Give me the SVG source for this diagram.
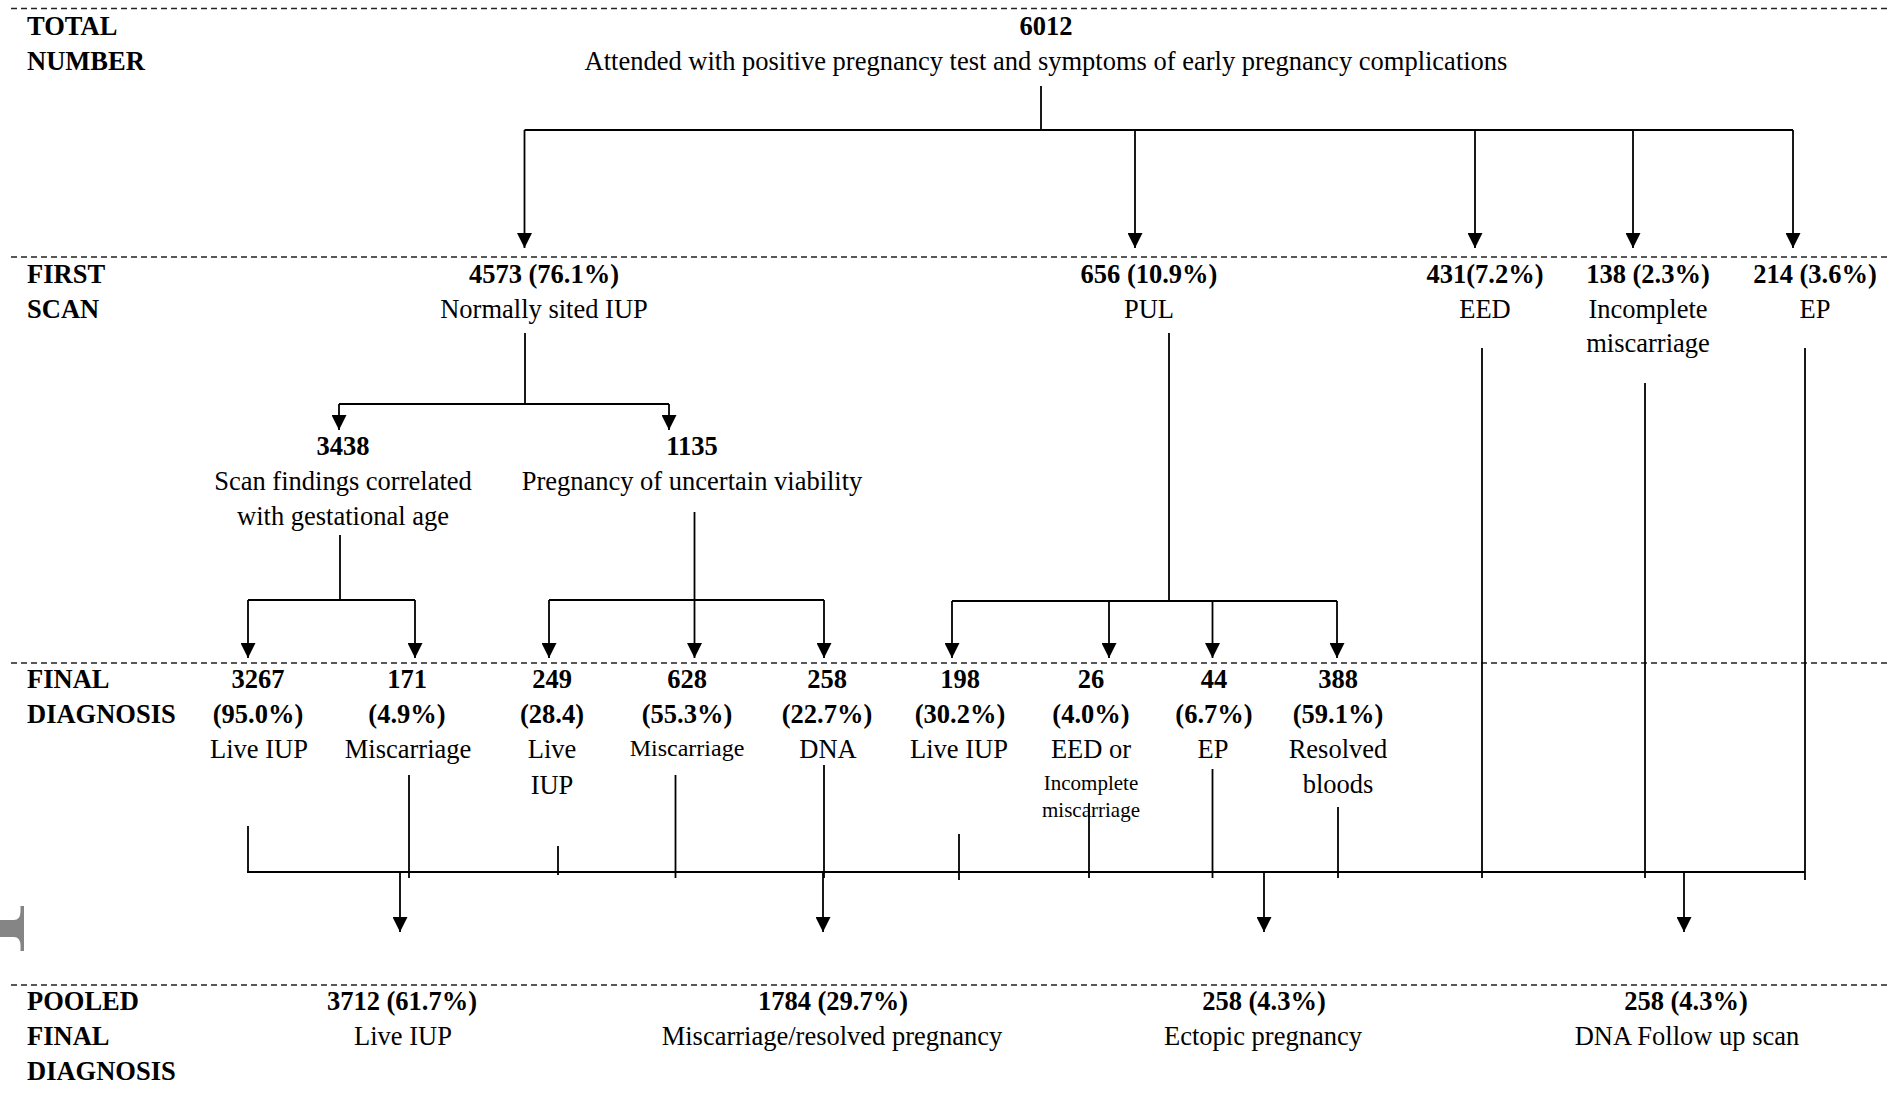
<svg xmlns="http://www.w3.org/2000/svg" width="1887" height="1112" viewBox="0 0 1887 1112">
<style>
text{font-family:"Liberation Serif","Times New Roman",serif;fill:#000;}
.b{font-size:26.5px;font-weight:bold;text-anchor:middle;}
.r{font-size:26.5px;text-anchor:middle;}
.s{font-size:24px;text-anchor:middle;}
.xs{font-size:21px;text-anchor:middle;}
.lab{font-size:26.5px;font-weight:bold;text-anchor:start;}
.dash{stroke:#222;stroke-width:1.3;stroke-dasharray:6 4;fill:none;}
.c{stroke:#000;stroke-width:1.8;fill:none;}
.a{stroke:#000;stroke-width:1.8;fill:none;marker-end:url(#ah);}
</style>
<defs>
<marker id="ah" markerUnits="userSpaceOnUse" viewBox="0 0 15 15" markerWidth="15" markerHeight="15" refX="15" refY="7.5" orient="auto">
<path d="M0,0 L15,7.5 L0,15 z" fill="#000"/>
</marker>
</defs>
<rect width="1887" height="1112" fill="#fff"/>
<g id="separators">
<line class="dash" x1="11" y1="8.5" x2="1887" y2="8.5"/>
<line class="dash" x1="11" y1="257" x2="1887" y2="257"/>
<line class="dash" x1="11" y1="663" x2="1887" y2="663"/>
<line class="dash" x1="11" y1="985" x2="1887" y2="985"/>
</g>
<g id="row-labels">
<text class="lab" x="27" y="35">TOTAL</text>
<text class="lab" x="27" y="70">NUMBER</text>
<text class="lab" x="27" y="283">FIRST</text>
<text class="lab" x="27" y="318">SCAN</text>
<text class="lab" x="27" y="688">FINAL</text>
<text class="lab" x="27" y="723">DIAGNOSIS</text>
<text class="lab" x="27" y="1010">POOLED</text>
<text class="lab" x="27" y="1045">FINAL</text>
<text class="lab" x="27" y="1080">DIAGNOSIS</text>
</g>
<g id="artifact">
<path d="M0,920 L14,920 Q20,920 20.5,912 L20.5,906 L24,906 L24,951 L20.5,951 L20.5,945 Q20,937 14,937 L0,937 z" fill="#858585"/>
</g>
<g id="n-total">
<text class="b" x="1046" y="35">6012</text>
<text class="r" x="1046" y="70">Attended with positive pregnancy test and symptoms of early pregnancy complications</text>
</g>
<g id="n-iup">
<text class="b" x="544" y="283">4573 (76.1%)</text>
<text class="r" x="544" y="318">Normally sited IUP</text>
</g>
<g id="n-pul">
<text class="b" x="1149" y="283">656 (10.9%)</text>
<text class="r" x="1149" y="318">PUL</text>
</g>
<g id="n-eed">
<text class="b" x="1485" y="283">431(7.2%)</text>
<text class="r" x="1485" y="318">EED</text>
</g>
<g id="n-incomplete">
<text class="b" x="1648" y="283">138 (2.3%)</text>
<text class="r" x="1648" y="318">Incomplete</text>
<text class="r" x="1648" y="352">miscarriage</text>
</g>
<g id="n-ep">
<text class="b" x="1815" y="283">214 (3.6%)</text>
<text class="r" x="1815" y="318">EP</text>
</g>
<g id="n-correlated">
<text class="b" x="343" y="455">3438</text>
<text class="r" x="343" y="490">Scan findings correlated</text>
<text class="r" x="343" y="525">with gestational age</text>
</g>
<g id="n-puv">
<text class="b" x="692" y="455">1135</text>
<text class="r" x="692" y="490">Pregnancy of uncertain viability</text>
</g>
<g id="f-3267">
<text class="b" x="258" y="688">3267</text>
<text class="b" x="258" y="723">(95.0%)</text>
<text class="r" x="259" y="758">Live IUP</text>
</g>
<g id="f-171">
<text class="b" x="407" y="688">171</text>
<text class="b" x="407" y="723">(4.9%)</text>
<text class="r" x="408" y="758">Miscarriage</text>
</g>
<g id="f-249">
<text class="b" x="552" y="688">249</text>
<text class="b" x="552" y="723">(28.4)</text>
<text class="r" x="552" y="758">Live</text>
<text class="r" x="552" y="794">IUP</text>
</g>
<g id="f-628">
<text class="b" x="687" y="688">628</text>
<text class="b" x="687" y="723">(55.3%)</text>
<text class="s" x="687" y="756">Miscarriage</text>
</g>
<g id="f-258">
<text class="b" x="827" y="688">258</text>
<text class="b" x="827" y="723">(22.7%)</text>
<text class="r" x="828" y="758">DNA</text>
</g>
<g id="f-198">
<text class="b" x="960" y="688">198</text>
<text class="b" x="960" y="723">(30.2%)</text>
<text class="r" x="959" y="758">Live IUP</text>
</g>
<g id="f-26">
<text class="b" x="1091" y="688">26</text>
<text class="b" x="1091" y="723">(4.0%)</text>
<text class="r" x="1091" y="758">EED or</text>
<text class="xs" x="1091" y="790">Incomplete</text>
<text class="xs" x="1091" y="817">miscarriage</text>
</g>
<g id="f-44">
<text class="b" x="1214" y="688">44</text>
<text class="b" x="1214" y="723">(6.7%)</text>
<text class="r" x="1213" y="758">EP</text>
</g>
<g id="f-388">
<text class="b" x="1338" y="688">388</text>
<text class="b" x="1338" y="723">(59.1%)</text>
<text class="r" x="1338" y="758">Resolved</text>
<text class="r" x="1338" y="793">bloods</text>
</g>
<g id="p-live">
<text class="b" x="402" y="1010">3712 (61.7%)</text>
<text class="r" x="403" y="1045">Live IUP</text>
</g>
<g id="p-misc">
<text class="b" x="833" y="1010">1784 (29.7%)</text>
<text class="r" x="832" y="1045">Miscarriage/resolved pregnancy</text>
</g>
<g id="p-ectopic">
<text class="b" x="1264" y="1010">258 (4.3%)</text>
<text class="r" x="1263" y="1045">Ectopic pregnancy</text>
</g>
<g id="p-dna">
<text class="b" x="1686" y="1010">258 (4.3%)</text>
<text class="r" x="1687" y="1045">DNA Follow up scan</text>
</g>
<g id="connectors">
<line class="c" x1="1041" y1="86" x2="1041" y2="130"/>
<line class="c" x1="524.5" y1="130" x2="1793" y2="130"/>
<line class="a" x1="524.5" y1="130" x2="524.5" y2="248"/>
<line class="a" x1="1135" y1="130" x2="1135" y2="248"/>
<line class="a" x1="1475" y1="130" x2="1475" y2="248"/>
<line class="a" x1="1633" y1="130" x2="1633" y2="248"/>
<line class="a" x1="1793" y1="130" x2="1793" y2="248"/>
<line class="c" x1="525" y1="333" x2="525" y2="404"/>
<line class="c" x1="339" y1="404" x2="669" y2="404"/>
<line class="a" x1="339" y1="404" x2="339" y2="430"/>
<line class="a" x1="669" y1="404" x2="669" y2="430"/>
<line class="c" x1="340" y1="535" x2="340" y2="600"/>
<line class="c" x1="248" y1="600" x2="415" y2="600"/>
<line class="a" x1="248" y1="600" x2="248" y2="658"/>
<line class="a" x1="415" y1="600" x2="415" y2="658"/>
<line class="a" x1="694.5" y1="512" x2="694.5" y2="658"/>
<line class="c" x1="549" y1="600" x2="824" y2="600"/>
<line class="a" x1="549" y1="600" x2="549" y2="658"/>
<line class="a" x1="824" y1="600" x2="824" y2="658"/>
<line class="c" x1="1169" y1="333" x2="1169" y2="601"/>
<line class="c" x1="952" y1="601" x2="1337" y2="601"/>
<line class="a" x1="952" y1="601" x2="952" y2="658"/>
<line class="a" x1="1109" y1="600" x2="1109" y2="658"/>
<line class="a" x1="1212.5" y1="600" x2="1212.5" y2="658"/>
<line class="a" x1="1337" y1="601" x2="1337" y2="658"/>
<line class="c" x1="247" y1="872" x2="1805" y2="872"/>
<line class="c" x1="248" y1="826" x2="248" y2="872"/>
<line class="c" x1="409" y1="775" x2="409" y2="878"/>
<line class="c" x1="558" y1="846" x2="558" y2="875"/>
<line class="c" x1="675.5" y1="775" x2="675.5" y2="878"/>
<line class="c" x1="824" y1="765" x2="824" y2="878"/>
<line class="c" x1="959" y1="834" x2="959" y2="880"/>
<line class="c" x1="1089" y1="803" x2="1089" y2="878"/>
<line class="c" x1="1212.5" y1="769" x2="1212.5" y2="878"/>
<line class="c" x1="1338" y1="807" x2="1338" y2="878"/>
<line class="c" x1="1482" y1="348" x2="1482" y2="878"/>
<line class="c" x1="1645" y1="383" x2="1645" y2="878"/>
<line class="c" x1="1805" y1="348" x2="1805" y2="880"/>
<line class="a" x1="400" y1="873" x2="400" y2="932"/>
<line class="a" x1="823" y1="873" x2="823" y2="932"/>
<line class="a" x1="1264" y1="873" x2="1264" y2="932"/>
<line class="a" x1="1684" y1="873" x2="1684" y2="932"/>
</g>
</svg>
